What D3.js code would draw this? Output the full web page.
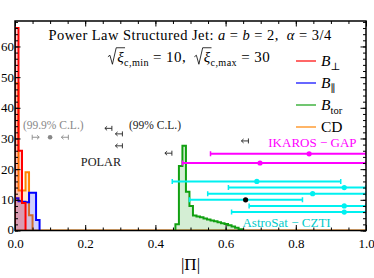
<!DOCTYPE html>
<html>
<head>
<meta charset="utf-8">
<script src="https://cdn.jsdelivr.net/npm/d3@7"></script>
<style>
body { margin: 0; background: #fff; }
svg { display: block; }
text { font-family: "Liberation Serif", "DejaVu Serif", serif; white-space: pre; }
</style>
</head>
<body>
<svg id="chart"></svg>
<script>
// histograms of |Pi|, bin width 0.01
const binWidth = 0.01;
const perpStart = 0.0;
const perpCounts = [66, 26, 9];
const parStart = 0.0;
const parCounts = [10.5, 9.5, 9.4, 9.2, 12.3, 12.3, 3.4];
const torStart = 0.457;
const torCounts = [2, 21, 27.6, 12.6, 8, 4.9, 4.6, 4.3, 3.9, 3.6, 3.3, 3.0, 2.7, 2.4, 2.1, 1.7, 1.3, 0.9, 0.4];
const cdStart = 0.0;
const cdCounts = [48, 13, 13, 19, 5];

// IKAROS-GAP measurements (pol, low, high, plotted height)
const ikarosPol = [0.838, 0.698];
const ikarosLo = [0.557, 0.477];
const ikarosHi = [1.0, 1.0];
const ikarosRow = [25, 22];

// AstroSat-CZTI measurements
const cztiPol = [0.689, 0.938, 0.848, 0.657, 0.938, 0.938];
const cztiLo = [0.448, 0.608, 0.549, 0.497, 0.667, 0.617];
const cztiHi = [0.928, 1.0, 1.0, 0.819, 1.0, 1.0];
const cztiRow = [16, 14, 12, 10, 8, 6];

// POLAR upper limits (99% C.L.)
const polarLim = [0.276, 0.306, 0.306, 0.447, 0.665];
const polarRow = [33.3, 31.5, 27.6, 25.2, 29.2];

// 99.9% C.L. interval
const grayLo = 0.049, grayPol = 0.1, grayHi = 0.152, grayRow = 30.4;

const xTicks = [0, 0.2, 0.4, 0.6, 0.8, 1.0];
const yTicks = [0, 10, 20, 30, 40, 50, 60];

const width = 374, height = 278;
const margin = { top: 21, right: 8, bottom: 47.5, left: 15 };

const colors = {
    perp: "#ff0000",
    par: "#0000ff",
    tor: "#11a011",
    cd: "#ff8400",
    ikaros: "#ff00ff",
    czti: "#00f0f0"
};

const svg = d3.select('#chart').attr('width', width).attr('height', height);

const x = d3.scaleLinear().domain([0, 1]).range([margin.left, width - margin.right]);
const y = d3.scaleLinear().domain([0, 68.3]).range([height - margin.bottom, margin.top]);

svg.append('defs').append('clipPath').attr('id', 'plotClip')
    .append('rect')
    .attr('x', x(0)).attr('y', y(68.3))
    .attr('width', x(1) - x(0)).attr('height', y(0) - y(68.3));

const plot = svg.append('g').attr('clip-path', 'url(#plotClip)');

// step outline of a histogram, closed to baseline
function stepPoints(start, counts) {
    const pts = [[start, 0]];
    counts.forEach((c, i) => {
        pts.push([start + i * binWidth, c]);
        pts.push([start + (i + 1) * binWidth, c]);
    });
    pts.push([start + counts.length * binWidth, 0]);
    return pts;
}

const stepLine = d3.line().x(d => x(d[0])).y(d => y(d[1]));

function drawHist(start, counts, color) {
    const pts = stepPoints(start, counts);
    plot.append('path')
        .attr('d', stepLine(pts) + 'Z')
        .attr('fill', color)
        .attr('fill-opacity', 0.18)
        .attr('stroke', 'none');
    plot.append('path')
        .attr('d', stepLine(pts))
        .attr('fill', 'none')
        .attr('stroke', color)
        .attr('stroke-width', 2);
}

// orange baseline from CD histogram spanning full range
plot.append('line')
    .attr('x1', x(0)).attr('x2', x(1))
    .attr('y1', y(0)).attr('y2', y(0))
    .attr('stroke', colors.cd).attr('stroke-width', 2);

drawHist(cdStart, cdCounts, colors.cd);
drawHist(parStart, parCounts, colors.par);
drawHist(perpStart, perpCounts, colors.perp);
drawHist(torStart, torCounts, colors.tor);

// error bars
function errBar(lo, pol, hi, row, color, markColor) {
    const yy = y(row);
    plot.append('line')
        .attr('x1', x(lo)).attr('x2', x(hi))
        .attr('y1', yy).attr('y2', yy)
        .attr('stroke', color).attr('stroke-width', 2);
    [lo, hi].forEach(v => {
        plot.append('line')
            .attr('x1', x(v)).attr('x2', x(v))
            .attr('y1', yy - 2.5).attr('y2', yy + 2.5)
            .attr('stroke', color).attr('stroke-width', 1.5);
    });
    plot.append('circle')
        .attr('cx', x(pol)).attr('cy', yy).attr('r', 2.6)
        .attr('fill', markColor || color);
}

ikarosPol.forEach((p, i) => errBar(ikarosLo[i], p, ikarosHi[i], ikarosRow[i], colors.ikaros));
cztiPol.forEach((p, i) => errBar(cztiLo[i], p, cztiHi[i], cztiRow[i], colors.czti, i === 3 ? '#000' : null));

// limit arrows: dir -1 points left (upper limit), +1 points right (lower limit)
function limitArrow(v, row, dir, color) {
    const bx = x(v), by = y(row);
    const tip = bx + dir * 7;
    plot.append('path')
        .attr('d', `M${bx},${by - 2.5}V${by + 2.5}M${bx},${by}H${tip}` +
            `M${tip - dir * 2.2},${by - 2}L${tip},${by}L${tip - dir * 2.2},${by + 2}`)
        .attr('fill', 'none')
        .attr('stroke', color)
        .attr('stroke-width', 0.9);
}

polarLim.forEach((v, i) => limitArrow(v, polarRow[i], -1, '#222'));
limitArrow(grayLo, grayRow, 1, '#888');
limitArrow(grayHi, grayRow, -1, '#888');
plot.append('circle').attr('cx', x(grayPol)).attr('cy', y(grayRow)).attr('r', 2.3).attr('fill', '#888');

// annotation texts
function label(txt, xv, yv, anchor, size, color) {
    svg.append('text')
        .attr('x', x(xv)).attr('y', y(yv))
        .attr('text-anchor', anchor)
        .attr('font-size', size)
        .attr('fill', color)
        .text(txt);
}
label('(99.9% C.L.)', 0.109, 33.0, 'middle', 11.5, '#888');
label('(99% C.L.)', 0.399, 33.0, 'middle', 11.5, '#222');
label('POLAR', 0.245, 20.9, 'middle', 12.3, '#222');
label('IKAROS \u2212 GAP', 0.973, 27.2, 'end', 13, colors.ikaros);
label('AstroSat \u2212 CZTI', 0.648, 1.2, 'start', 13, '#00caca');

// rich text: parts with italic, subscript, square root
function richText(px, py, parts, size, anchor, spacing) {
    const g = svg.append('g');
    let cx = 0;
    parts.forEach(p => {
        if (p.gap) { cx += p.gap; return; }
        const fs = p.sub ? size * 0.68 : size;
        let start = cx;
        if (p.root) start += size * 0.62;
        const t = g.append('text')
            .attr('x', start).attr('y', p.sub ? size * 0.28 : 0)
            .attr('font-size', fs)
            .attr('font-style', p.it ? 'italic' : 'normal')
            .attr('letter-spacing', spacing || 0)
            .attr('fill', '#000')
            .text(p.t);
        const w = t.node().getComputedTextLength();
        if (p.root) {
            const top = -size * 0.95;
            g.append('path')
                .attr('d', `M${cx},${-size * 0.35}L${cx + 2},${-size * 0.45}L${cx + size * 0.3},${size * 0.15}` +
                    `L${start - 1},${top}H${start + w + 1}`)
                .attr('fill', 'none').attr('stroke', '#000').attr('stroke-width', 0.8);
        }
        cx = start + w;
    });
    const off = anchor === 'middle' ? -cx / 2 : anchor === 'end' ? -cx : 0;
    g.attr('transform', `translate(${px + off},${py})`);
    return g;
}

richText(190, 40, [
    { t: 'Power Law Structured Jet: ' }, { t: 'a', it: true }, { t: ' = ' },
    { t: 'b', it: true }, { t: ' = 2,  ' }, { t: '\u03b1', it: true }, { t: ' = 3/4' }
], 14.5, 'middle', 0.45);

richText(189, 62, [
    { t: '\u03be', it: true, root: true }, { t: 'c,min', sub: true }, { t: ' = 10,  ' },
    { t: '\u03be', it: true, root: true }, { t: 'c,max', sub: true }, { t: ' = 30' }
], 15, 'middle', 0.4);

// legend
const legendItems = [
    { key: 'perp', parts: [{ t: 'B', it: true }, { t: '\u22a5', sub: true }] },
    { key: 'par', parts: [{ t: 'B', it: true }, { t: '\u2225', sub: true }] },
    { key: 'tor', parts: [{ t: 'B', it: true }, { t: 'tor', sub: true }] },
    { key: 'cd', parts: [{ t: 'CD' }] }
];
legendItems.forEach((d, i) => {
    const ly = 61 + i * 22;
    svg.append('line')
        .attr('x1', 296).attr('x2', 316)
        .attr('y1', ly).attr('y2', ly)
        .attr('stroke', colors[d.key]).attr('stroke-width', 1.2);
    richText(321, ly + 5, d.parts, 15.5, 'start');
});

// axes with inward ticks
const xMinor = d3.range(0, 1.0001, 0.05);
const yMinor = d3.range(0, 68.3, 2);

function tickGroup(axis, tx, ty) {
    const g = svg.append('g').attr('transform', `translate(${tx},${ty})`).call(axis);
    g.select('.domain').remove();
    g.selectAll('line').attr('stroke', '#000').attr('stroke-width', 1);
    return g;
}

tickGroup(d3.axisBottom(x).tickValues(xMinor).tickSize(-3).tickFormat(''), 0, y(0));
tickGroup(d3.axisTop(x).tickValues(xMinor).tickSize(-3).tickFormat(''), 0, y(68.3));
tickGroup(d3.axisLeft(y).tickValues(yMinor).tickSize(-3).tickFormat(''), x(0), 0);
tickGroup(d3.axisRight(y).tickValues(yMinor).tickSize(-3).tickFormat(''), x(1), 0);

const xAxis = tickGroup(d3.axisBottom(x).tickValues(xTicks).tickSize(-5.5).tickPadding(8.5)
    .tickFormat(d3.format('.1f')), 0, y(0));
xAxis.selectAll('text').attr('font-size', 13).attr('fill', '#000')
    .style('font-family', '"Liberation Serif", serif');
tickGroup(d3.axisTop(x).tickValues(xTicks).tickSize(-5.5).tickFormat(''), 0, y(68.3));

const yAxis = tickGroup(d3.axisLeft(y).tickValues(yTicks).tickSize(-5.5).tickPadding(1)
    .tickFormat(d3.format('d')), x(0), 0);
yAxis.selectAll('text').attr('font-size', 13).attr('fill', '#000')
    .style('font-family', '"Liberation Serif", serif');
yAxis.selectAll('text').filter(d => d === 0).attr('dy', '0.2em');
tickGroup(d3.axisRight(y).tickValues(yTicks).tickSize(-5.5).tickFormat(''), x(1), 0);

// frame
svg.append('rect')
    .attr('x', x(0)).attr('y', y(68.3))
    .attr('width', x(1) - x(0)).attr('height', y(0) - y(68.3))
    .attr('fill', 'none').attr('stroke', '#000').attr('stroke-width', 1.5);

// x label
svg.append('text')
    .attr('x', x(0.5)).attr('y', 270)
    .attr('text-anchor', 'middle')
    .attr('font-size', 17)
    .text('|\u03a0|');
</script>
</body>
</html>
